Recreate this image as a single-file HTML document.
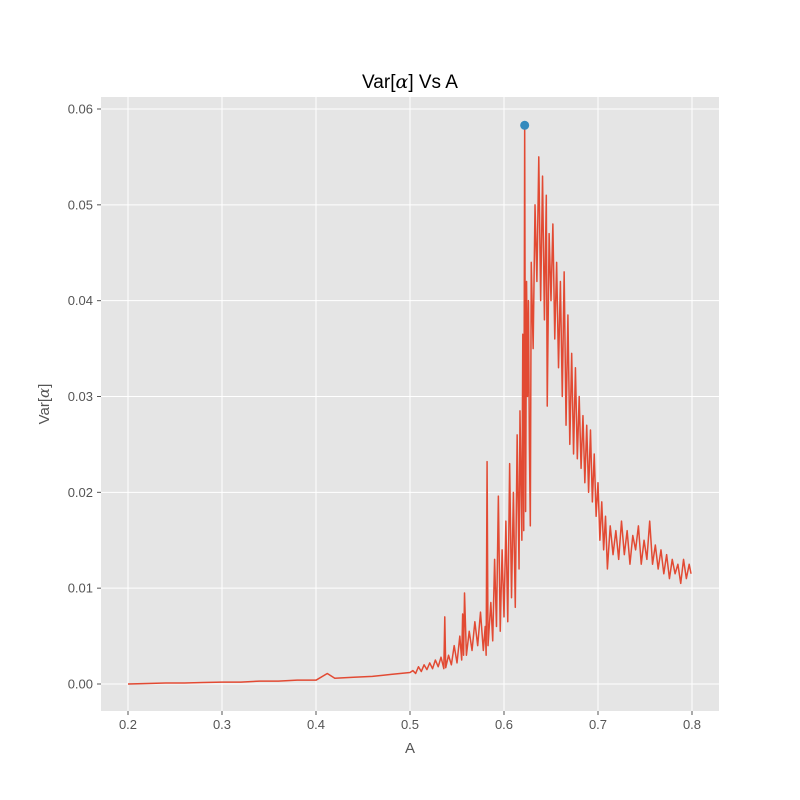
<!DOCTYPE html>
<html><head><meta charset="utf-8"><style>
body{margin:0;background:#fff;}
svg{display:block;font-family:"Liberation Sans","DejaVu Sans",sans-serif;}
</style></head><body>
<svg id="chart" width="800" height="800"></svg>
<script>
const aVals=[0.2,0.22,0.24,0.26,0.28,0.30,0.32,0.34,0.36,0.38,0.40,0.412,0.42,0.44,0.46,0.48,0.50,
0.503,0.506,0.509,0.512,0.515,0.518,0.521,0.524,0.527,0.530,0.533,0.536,0.537,0.538,0.541,0.544,0.547,0.550,0.553,0.555,0.556,0.557,0.558,0.560,0.563,0.566,0.569,0.572,0.575,0.578,0.580,0.581,0.582,0.583,0.586,0.588,0.590,0.592,0.594,0.596,0.598,0.600,0.602,0.604,0.606,0.608,0.610,0.612,0.614,0.616,0.617,0.619,0.620,0.621,0.622,0.623,0.624,0.625,0.626,0.627,0.628,0.629,0.631,0.633,0.635,0.637,0.639,0.641,0.643,0.645,0.646,0.648,0.650,0.652,0.654,0.656,0.658,0.660,0.662,0.664,0.666,0.668,0.670,0.672,0.674,0.676,0.678,0.680,0.682,0.684,0.686,0.688,0.690,0.692,0.694,0.696,0.698,0.700,0.702,0.704,0.706,0.708,0.710,0.713,0.716,0.719,0.722,0.725,0.728,0.731,0.734,0.737,0.740,0.743,0.746,0.749,0.752,0.755,0.758,0.761,0.764,0.767,0.770,0.773,0.776,0.779,0.782,0.785,0.788,0.791,0.794,0.797,0.799];
const varVals=[0,0.00005,0.0001,0.0001,0.00015,0.0002,0.0002,0.0003,0.0003,0.0004,0.0004,0.0011,0.0006,0.0007,0.0008,0.0010,0.0012,
0.0014,0.0011,0.0018,0.0013,0.0020,0.0015,0.0022,0.0016,0.0025,0.0018,0.0028,0.0016,0.0070,0.0017,0.0030,0.0020,0.0040,0.0022,0.0050,0.0025,0.0073,0.0030,0.0095,0.0030,0.0055,0.0035,0.0065,0.0040,0.0075,0.0035,0.0060,0.0030,0.0232,0.0040,0.0085,0.0045,0.0130,0.0060,0.0196,0.0055,0.0140,0.0070,0.0170,0.0065,0.0230,0.0090,0.0200,0.0080,0.0260,0.0120,0.0285,0.0150,0.0365,0.0160,0.0583,0.0180,0.0420,0.0300,0.0400,0.0250,0.0165,0.0440,0.0350,0.0500,0.0420,0.0550,0.0400,0.0530,0.0380,0.0510,0.0290,0.0470,0.0400,0.0480,0.0360,0.0440,0.0330,0.0420,0.0300,0.0430,0.0270,0.0385,0.0250,0.0345,0.0240,0.0330,0.0235,0.0300,0.0225,0.0280,0.0210,0.0270,0.0200,0.0265,0.0190,0.0240,0.0175,0.0210,0.0150,0.0190,0.0140,0.0175,0.0120,0.0165,0.0135,0.0160,0.0130,0.0170,0.0135,0.0160,0.0125,0.0155,0.0140,0.0165,0.0125,0.0150,0.0130,0.0170,0.0125,0.0145,0.0120,0.0140,0.0115,0.0135,0.0110,0.0130,0.0115,0.0125,0.0105,0.0130,0.0110,0.0125,0.0115];
const xTicks=[0.2,0.3,0.4,0.5,0.6,0.7,0.8];
const xTickLabels=["0.2","0.3","0.4","0.5","0.6","0.7","0.8"];
const yTicks=[0,0.01,0.02,0.03,0.04,0.05,0.06];
const yTickLabels=["0.00","0.01","0.02","0.03","0.04","0.05","0.06"];

const NS="http://www.w3.org/2000/svg";
const svg=document.getElementById('chart');
const L=101,R=719,T=97,B=711;
const xs=v=>128+(v-0.2)*940;
const ys=v=>684-v*9583.3;
function mk(tag,attrs,parent){const e=document.createElementNS(NS,tag);for(const k in attrs)e.setAttribute(k,attrs[k]);(parent||svg).appendChild(e);return e;}

const bg=mk('rect',{x:L,y:T,width:R-L,height:B-T,fill:'#E5E5E5'});



xTicks.forEach((t,i)=>{
  const g=mk('line',{x1:xs(t),x2:xs(t),y1:T,y2:B,stroke:'#fff','stroke-width':1});
  
  
  mk('line',{x1:xs(t),x2:xs(t),y1:B,y2:B+4,stroke:'#555','stroke-width':1});
  const tx=mk('text',{x:xs(t),y:B+18,'text-anchor':'middle','font-size':13,fill:'#555'});
  tx.textContent=xTickLabels[i];
  
  
});
yTicks.forEach((t,i)=>{
  const g=mk('line',{x1:L,x2:R,y1:ys(t),y2:ys(t),stroke:'#fff','stroke-width':1});
  
  
  mk('line',{x1:L-4,x2:L,y1:ys(t),y2:ys(t),stroke:'#555','stroke-width':1});
  const tx=mk('text',{x:L-8,y:ys(t)+4.5,'text-anchor':'end','font-size':13,fill:'#555'});
  tx.textContent=yTickLabels[i];
  
  
});

let d='';
aVals.forEach((a,i)=>{d+=(i?'L':'M')+xs(a).toFixed(2)+','+ys(varVals[i]).toFixed(2);});
const line=mk('path',{d:d,fill:'none',stroke:'#E24A33','stroke-width':1.5,'stroke-linejoin':'round'});



let mi=0;varVals.forEach((v,i)=>{if(v>varVals[mi])mi=i;});
const pt=mk('circle',{cx:xs(aVals[mi]),cy:ys(varVals[mi]),r:4.5,fill:'#348ABD'});



const title=mk('text',{x:410,y:88,'text-anchor':'middle','font-size':19,fill:'#000'});
title.innerHTML='Var[<tspan font-family="DejaVu Serif" font-style="italic">α</tspan>] Vs A';



const xl=mk('text',{x:410,y:753,'text-anchor':'middle','font-size':15,fill:'#555'});
xl.textContent='A';



const yl=mk('text',{x:0,y:0,'text-anchor':'middle','font-size':15,fill:'#555',transform:'translate(49,404) rotate(-90)'});
yl.innerHTML='Var[<tspan font-family="DejaVu Serif" font-style="italic">α</tspan>]';


</script>
</body></html>
